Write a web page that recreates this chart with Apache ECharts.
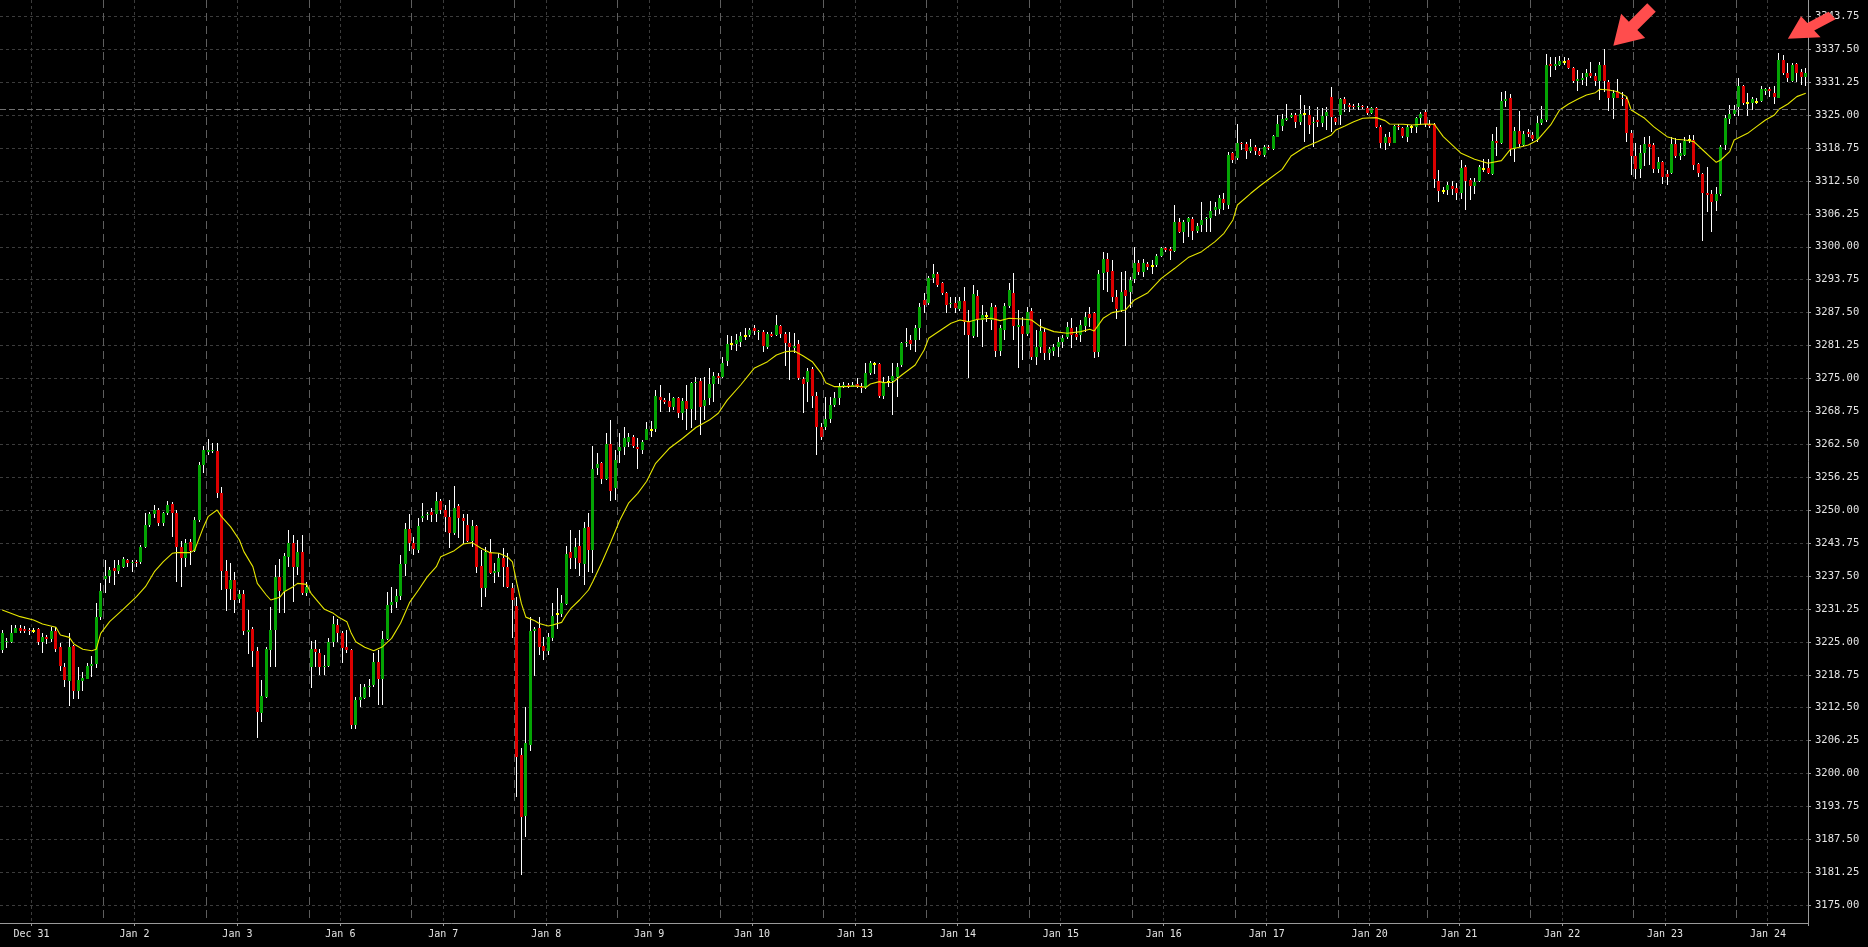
<!DOCTYPE html>
<html><head><meta charset="utf-8">
<script src="https://cdn.jsdelivr.net/npm/echarts@6/dist/echarts.min.js"></script>
<style>html,body{margin:0;padding:0;background:#000;}#chart{width:1868px;height:947px;}</style>
</head><body><div id="chart"></div>
<script>
// ---- data: hourly bars, each [open, close, low, high] ----
const dayLabels = ['Dec 31','Jan 2','Jan 3','Jan 6','Jan 7','Jan 8','Jan 9','Jan 10','Jan 13','Jan 14','Jan 15','Jan 16','Jan 17','Jan 20','Jan 21','Jan 22','Jan 23','Jan 24'];

const dec31 = [[3223.46,3226.62,3222.9,3227.2],[3224.9,3225.2,3223.9,3225.7],[3224.9,3226.75,3224.7,3228.2],[3226.75,3227.6,3226.6,3228.2],[3227.6,3227.1,3226.6,3228.2],[3227.4,3227.0,3226.6,3228.0],[3227.3,3227.0,3226.3,3227.7],[3227.1,3227.1,3226.6,3227.6],[3227.4,3224.9,3224.4,3227.6],[3224.9,3226.0,3222.9,3226.6],[3226.0,3225.6,3224.6,3226.3],[3225.6,3227.1,3225.0,3227.9],[3227.1,3223.7,3223.1,3227.9],[3224.0,3220.4,3219.5,3224.7],[3220.3,3217.8,3216.5,3220.9],[3217.5,3224.0,3212.9,3226.6],[3224.2,3215.75,3214.1,3224.4],[3215.75,3217.8,3214.1,3220.3],[3217.5,3218.1,3215.75,3219.3],[3218.0,3220.4,3217.9,3220.9],[3220.4,3220.8,3218.4,3222.4],[3220.8,3229.8,3220.0,3232.4],[3229.8,3234.6,3229.2,3236.1]];
const jan2 = [[3236.9,3237.6,3234.2,3240.5],[3237.6,3238.65,3236.1,3239.3],[3239.0,3238.5,3235.8,3240.5],[3238.5,3239.5,3237.9,3240.5],[3239.3,3240.7,3239.0,3241.2],[3240.5,3240.0,3239.3,3240.8],[3240.0,3240.2,3238.3,3240.5],[3240.2,3239.9,3239.3,3240.5],[3240.1,3243.1,3239.8,3243.4],[3243.1,3247.2,3242.8,3249.4],[3247.2,3249.3,3246.9,3249.7],[3249.3,3250.0,3248.6,3251.0],[3250.0,3247.5,3247.0,3250.5],[3247.5,3249.4,3247.0,3249.7],[3249.4,3251.0,3249.1,3251.8],[3251.2,3249.5,3244.9,3251.6],[3249.5,3243.1,3236.4,3250.0],[3243.0,3240.9,3235.5,3244.1],[3240.9,3243.8,3239.3,3244.6],[3243.9,3242.3,3239.6,3244.5],[3242.3,3248.1,3242.1,3248.8],[3248.1,3258.6,3247.8,3259.2],[3258.6,3261.4,3257.0,3262.1]];
const jan3 = [[3261.0,3261.4,3260.5,3263.5],[3261.2,3261.4,3260.9,3262.7],[3261.2,3253.3,3252.25,3262.7],[3253.3,3238.5,3234.85,3254.4],[3238.5,3235.0,3230.9,3240.5],[3235.0,3236.7,3232.9,3239.9],[3236.8,3233.0,3230.4,3238.3],[3233.2,3234.0,3232.3,3234.85],[3234.0,3227.1,3226.3,3234.85],[3226.9,3227.3,3222.7,3231.0],[3227.4,3223.3,3220.3,3227.9],[3223.3,3211.6,3206.7,3224.1],[3211.5,3214.7,3209.7,3217.8],[3214.6,3223.6,3214.3,3224.1],[3223.5,3227.25,3220.2,3231.7],[3227.25,3237.4,3220.2,3239.6],[3237.4,3234.6,3230.5,3240.7],[3234.6,3241.3,3230.5,3241.8],[3241.2,3243.7,3239.3,3246.2],[3243.7,3239.3,3232.6,3245.3],[3239.3,3242.1,3237.7,3244.4],[3242.1,3234.3,3233.9,3245.3],[3234.3,3235.4,3233.7,3236.4]];
const jan6 = [[3220.3,3223.6,3216.2,3225.1],[3223.6,3223.0,3220.3,3225.3],[3222.9,3220.3,3218.7,3223.6],[3220.2,3220.5,3218.7,3222.5],[3220.4,3225.0,3220.3,3225.7],[3225.0,3228.4,3224.1,3229.9],[3228.3,3226.7,3225.0,3229.3],[3226.7,3223.8,3221.0,3227.0],[3224.0,3223.4,3222.9,3227.3],[3223.4,3209.2,3208.5,3223.6],[3209.2,3213.9,3208.5,3214.6],[3213.9,3214.5,3212.7,3217.1],[3214.3,3216.4,3214.2,3217.1],[3216.4,3216.7,3214.5,3218.0],[3216.9,3221.1,3216.4,3222.8],[3221.1,3217.9,3213.0,3223.5],[3217.9,3225.6,3213.0,3227.1],[3225.6,3232.0,3225.4,3234.5],[3232.0,3232.5,3230.5,3235.5],[3232.5,3233.7,3231.4,3235.1],[3233.7,3239.8,3233.0,3241.4],[3239.8,3246.4,3237.5,3247.6],[3246.4,3243.8,3242.3,3249.3]];
const jan7 = [[3243.8,3242.6,3241.5,3245.0],[3242.4,3247.0,3241.8,3248.6],[3248.5,3248.9,3247.8,3251.4],[3249.0,3249.3,3248.1,3249.7],[3249.6,3249.1,3247.8,3250.4],[3249.3,3251.7,3247.8,3253.5],[3251.7,3250.1,3249.2,3252.2],[3250.1,3248.7,3245.9,3251.0],[3248.7,3245.6,3242.8,3252.0],[3245.6,3250.4,3245.3,3254.5],[3250.7,3248.5,3244.7,3251.1],[3248.5,3247.9,3243.6,3249.2],[3247.1,3244.2,3243.9,3249.2],[3244.2,3247.0,3243.0,3248.2],[3247.0,3239.3,3238.0,3247.2],[3239.4,3235.2,3231.7,3242.4],[3235.3,3242.1,3233.6,3243.1],[3242.1,3238.0,3237.9,3244.6],[3238.0,3238.5,3236.1,3239.9],[3238.3,3240.9,3237.4,3241.8],[3240.9,3239.3,3235.5,3242.8],[3239.3,3235.5,3235.3,3241.8],[3235.2,3232.95,3225.7,3236.2]];
const jan8 = [[3231.8,3203.2,3195.6,3233.6],[3203.5,3191.8,3180.7,3204.8],[3191.9,3205.9,3188.0,3212.7],[3205.4,3227.1,3204.2,3229.8],[3227.1,3227.4,3218.5,3227.9],[3227.6,3224.1,3222.5,3229.8],[3224.2,3223.3,3221.6,3225.9],[3223.3,3225.9,3222.5,3226.6],[3225.7,3229.9,3225.1,3232.4],[3230.2,3230.2,3227.4,3235.2],[3230.3,3232.3,3229.8,3233.9],[3232.2,3241.7,3232.0,3243.2],[3242.1,3241.0,3238.9,3246.2],[3241.0,3243.1,3238.9,3244.7],[3243.2,3239.9,3237.5,3246.2],[3239.8,3246.6,3235.8,3247.8],[3246.9,3242.4,3238.3,3249.4],[3242.4,3257.9,3238.0,3262.1],[3258.1,3258.8,3256.7,3260.8],[3258.9,3255.9,3254.9,3259.2],[3255.9,3262.6,3255.7,3264.6],[3262.6,3253.7,3251.8,3267.1],[3254.15,3259.5,3251.9,3261.4]];
const jan9 = [[3261.24,3261.93,3258.9,3264.7],[3262.06,3263.64,3260.48,3265.86],[3263.0,3263.83,3262.06,3264.59],[3263.83,3262.25,3261.74,3264.27],[3261.93,3261.61,3257.75,3263.64],[3261.42,3262.88,3260.67,3263.32],[3263.32,3265.35,3263.32,3266.8],[3265.22,3265.22,3263.96,3266.99],[3265.41,3271.74,3264.9,3272.81],[3271.55,3270.92,3268.7,3273.76],[3270.92,3270.6,3270.16,3271.2],[3270.73,3269.53,3268.7,3272.18],[3269.65,3271.23,3269.02,3271.55],[3271.23,3268.51,3267.44,3271.55],[3268.51,3270.73,3267.12,3271.23],[3270.73,3269.14,3265.22,3273.76],[3269.14,3274.08,3265.54,3274.4],[3274.08,3274.33,3267.12,3275.34],[3274.52,3269.53,3264.27,3275.03],[3269.78,3270.92,3267.12,3275.34],[3271.23,3273.95,3269.97,3276.93],[3273.95,3275.54,3270.6,3276.17],[3275.54,3275.03,3273.95,3275.98]];
const jan10 = [[3275.34,3277.88,3275.03,3279.14],[3278.38,3281.55,3277.37,3283.25],[3281.55,3281.55,3280.41,3283.06],[3281.55,3282.31,3280.28,3283.44],[3282.0,3283.06,3280.91,3283.89],[3283.06,3283.06,3282.31,3284.52],[3283.25,3284.2,3282.81,3284.52],[3284.65,3284.01,3283.25,3285.15],[3283.76,3284.01,3282.31,3284.2],[3283.89,3281.17,3280.09,3284.2],[3281.04,3283.44,3280.53,3283.89],[3283.44,3283.06,3282.81,3283.89],[3283.25,3285.15,3283.06,3287.05],[3284.96,3283.44,3282.62,3285.15],[3283.44,3281.8,3277.37,3283.89],[3281.67,3280.91,3274.71,3283.89],[3280.85,3281.17,3279.77,3283.7],[3281.48,3275.03,3274.71,3282.31],[3274.9,3273.95,3268.39,3275.34],[3274.4,3276.48,3270.6,3276.93],[3276.8,3271.74,3269.33,3277.24],[3271.74,3265.86,3260.48,3272.5],[3265.86,3263.96,3263.32,3266.49]];
const jan13 = [[3265.86,3267.25,3265.22,3271.55],[3267.25,3269.9,3266.62,3271.55],[3269.9,3271.29,3269.65,3272.5],[3271.23,3273.57,3269.97,3274.08],[3273.45,3273.76,3273.13,3274.4],[3273.83,3273.45,3273.13,3274.08],[3273.45,3273.7,3273.32,3274.4],[3273.95,3273.45,3273.13,3275.03],[3273.57,3273.13,3272.31,3274.08],[3273.13,3275.98,3272.94,3277.88],[3275.98,3278.0,3275.66,3278.32],[3277.75,3277.75,3275.85,3278.19],[3277.75,3271.67,3271.23,3277.88],[3271.67,3274.27,3271.04,3275.34],[3274.27,3274.27,3273.45,3275.47],[3274.58,3275.47,3268.07,3277.88],[3275.34,3277.24,3271.55,3278.0],[3277.56,3281.67,3277.24,3281.99],[3281.67,3281.99,3281.04,3284.52],[3282.31,3281.55,3280.41,3283.25],[3282.31,3284.65,3280.09,3285.15],[3284.65,3288.63,3282.31,3289.27],[3289.9,3288.95,3287.37,3291.16]];
const jan14 = [[3289.39,3294.01,3288.95,3294.46],[3294.01,3294.83,3293.06,3296.73],[3294.83,3292.75,3292.43,3295.28],[3293.06,3291.29,3290.85,3293.38],[3291.29,3288.95,3287.37,3291.48],[3289.08,3289.39,3288.32,3290.53],[3289.39,3288.32,3287.37,3290.53],[3288.13,3289.77,3287.87,3290.53],[3289.77,3285.78,3283.25,3292.43],[3285.78,3283.25,3275.15,3288.0],[3283.06,3291.04,3282.62,3292.75],[3290.66,3286.1,3282.94,3291.8],[3286.1,3287.05,3281.04,3288.95],[3286.92,3286.92,3285.78,3287.68],[3286.1,3288.51,3284.2,3289.39],[3288.51,3280.28,3279.14,3288.95],[3280.28,3284.52,3279.27,3285.15],[3284.2,3288.76,3282.31,3289.27],[3288.76,3291.8,3288.32,3293.06],[3291.29,3284.96,3282.31,3294.96],[3284.84,3285.09,3276.93,3288.0],[3284.96,3283.44,3278.51,3286.73],[3283.44,3287.68,3283.06,3288.63]];
const jan15 = [[3287.88,3279.14,3278.51,3288.32],[3279.14,3280.91,3277.56,3284.21],[3280.91,3284.02,3279.78,3286.23],[3283.89,3279.78,3278.51,3284.52],[3279.78,3280.54,3278.51,3281.04],[3280.28,3280.91,3279.27,3281.55],[3280.91,3281.99,3279.02,3282.94],[3281.99,3282.75,3280.72,3283.25],[3282.94,3284.71,3282.44,3285.78],[3284.65,3283.25,3280.72,3286.42],[3283.38,3282.94,3282.31,3284.84],[3283.25,3285.15,3282.0,3286.1],[3284.96,3286.61,3283.89,3287.68],[3287.24,3286.42,3284.84,3288.51],[3287.37,3280.09,3278.82,3287.68],[3280.09,3294.84,3279.02,3295.6],[3295.09,3297.62,3291.8,3299.07],[3297.62,3295.28,3291.48,3298.89],[3295.41,3290.53,3289.59,3297.49],[3290.53,3288.13,3286.23,3291.8],[3288.01,3291.48,3287.68,3295.28],[3291.8,3290.66,3281.17,3295.41],[3291.48,3293.7,3288.32,3294.33]];
const jan16 = [[3293.82,3296.86,3293.06,3299.9],[3296.86,3295.28,3294.65,3297.49],[3295.28,3296.86,3294.33,3297.62],[3296.67,3296.23,3295.6,3297.17],[3296.35,3296.35,3294.84,3297.49],[3296.54,3298.25,3296.23,3298.57],[3298.25,3299.71,3298.13,3300.02],[3299.71,3299.39,3299.07,3300.02],[3299.52,3299.27,3297.49,3300.02],[3299.27,3304.64,3299.07,3307.93],[3304.64,3302.87,3302.56,3305.4],[3302.87,3304.64,3300.78,3305.09],[3304.77,3305.4,3301.92,3305.72],[3305.27,3303.0,3301.29,3305.72],[3303.0,3303.95,3302.56,3304.45],[3304.14,3305.09,3302.87,3308.57],[3305.21,3305.4,3302.87,3305.72],[3305.4,3306.79,3302.87,3308.69],[3306.98,3307.62,3305.85,3308.57],[3307.11,3309.2,3306.22,3309.83],[3309.01,3308.37,3306.98,3310.15],[3307.93,3317.42,3307.11,3318.06],[3317.74,3316.48,3315.97,3318.06]];
const jan17 = [[3316.79,3319.77,3316.48,3323.31],[3319.77,3319.51,3318.37,3319.96],[3319.51,3318.25,3316.6,3319.96],[3318.25,3318.88,3317.74,3320.4],[3318.88,3318.18,3317.42,3319.32],[3318.18,3317.42,3317.23,3318.69],[3317.42,3318.88,3317.11,3319.32],[3319.01,3318.69,3318.37,3319.32],[3318.56,3321.09,3318.37,3321.22],[3320.91,3323.31,3320.78,3325.02],[3322.99,3324.26,3322.04,3325.14],[3324.07,3324.45,3323.94,3327.04],[3324.58,3325.02,3324.39,3325.33],[3325.02,3323.75,3322.49,3325.33],[3323.75,3325.21,3323.12,3328.81],[3325.14,3325.14,3319.96,3326.92],[3325.02,3323.12,3321.41,3326.73],[3323.44,3323.75,3318.88,3324.7],[3324.07,3323.63,3322.8,3326.6],[3323.44,3324.89,3322.8,3326.28],[3324.89,3325.52,3322.17,3326.6],[3328.37,3324.58,3321.85,3330.4],[3324.39,3323.75,3323.12,3324.7]];
const jan20 = [[3325.02,3327.99,3323.12,3328.18],[3327.99,3327.11,3325.65,3328.5],[3326.92,3326.47,3325.65,3327.23],[3326.79,3326.47,3326.1,3327.04],[3326.47,3326.73,3325.97,3327.23],[3326.73,3326.47,3326.1,3326.92],[3326.41,3325.33,3325.02,3326.73],[3325.46,3326.28,3325.21,3326.47],[3326.41,3322.8,3322.49,3326.6],[3322.8,3319.64,3318.69,3323.12],[3319.64,3320.91,3318.37,3321.41],[3320.91,3319.77,3319.13,3321.85],[3319.77,3322.93,3319.64,3323.12],[3322.93,3322.68,3322.17,3323.25],[3322.49,3321.03,3320.72,3322.8],[3320.91,3322.68,3319.96,3323.12],[3322.8,3322.8,3321.54,3323.12],[3322.8,3324.39,3321.66,3324.7],[3324.39,3325.21,3323.12,3325.65],[3325.65,3323.31,3322.68,3325.97]];
const jan21 = [[3323.31,3322.9,3322.5,3324.0],[3323.31,3312.81,3311.1,3323.44],[3312.49,3310.65,3308.57,3314.58],[3310.65,3310.65,3310.02,3311.41],[3310.78,3311.73,3309.83,3312.36],[3311.6,3310.97,3309.83,3312.49],[3311.1,3310.27,3308.88,3312.05],[3310.15,3314.9,3309.01,3316.48],[3315.08,3312.55,3306.98,3315.53],[3312.68,3311.54,3308.88,3312.99],[3311.6,3312.36,3310.02,3312.99],[3312.55,3315.08,3312.36,3315.53],[3314.83,3314.83,3314.26,3316.6],[3315.02,3313.94,3313.82,3316.6],[3313.82,3320.15,3313.63,3321.41],[3320.08,3319.64,3317.23,3322.8],[3319.64,3327.68,3319.51,3329.45],[3327.74,3328.06,3326.6,3329.64],[3328.31,3318.56,3317.23,3329.0],[3318.56,3322.04,3316.16,3322.68],[3321.98,3319.51,3319.01,3325.84],[3319.32,3321.41,3319.13,3321.98],[3321.85,3321.41,3320.91,3322.3]];
const jan22 = [[3321.22,3320.4,3320.14,3321.85],[3320.4,3323.43,3319.95,3324.83],[3323.43,3324.19,3323.12,3326.72],[3324.07,3334.51,3323.75,3336.59],[3334.7,3334.32,3332.29,3335.96],[3334.32,3334.7,3333.56,3336.09],[3334.51,3335.27,3334.32,3336.21],[3335.14,3335.14,3334.51,3336.09],[3335.46,3334.0,3333.68,3335.77],[3333.87,3331.53,3331.15,3334.19],[3331.53,3331.85,3329.63,3333.56],[3331.66,3331.97,3330.71,3333.05],[3332.17,3332.92,3330.52,3333.68],[3332.92,3332.42,3331.97,3335.08],[3332.42,3331.53,3330.52,3333.05],[3331.53,3334.51,3327.86,3335.14],[3334.51,3331.47,3329.44,3337.54],[3331.34,3328.31,3325.77,3331.66],[3328.31,3329.13,3324.19,3329.76],[3329.44,3328.31,3328.18,3331.78],[3328.31,3327.99,3326.72,3329.44],[3327.99,3321.66,3319.95,3328.37],[3321.66,3317.3,3313.63,3322.17]];
const jan23 = [[3317.3,3314.7,3312.8,3319.64],[3314.7,3317.74,3313.0,3319.32],[3317.86,3319.51,3315.33,3320.9],[3319.51,3319.0,3315.52,3321.03],[3319.26,3314.76,3314.07,3319.64],[3314.76,3316.09,3313.94,3317.11],[3316.09,3313.31,3311.92,3316.35],[3313.82,3313.31,3311.73,3314.57],[3313.94,3319.51,3313.82,3320.9],[3319.51,3317.23,3316.92,3320.59],[3317.23,3317.86,3316.47,3319.64],[3317.42,3320.14,3317.23,3320.78],[3320.27,3320.27,3319.64,3321.22],[3320.27,3315.59,3314.57,3321.22],[3315.65,3313.94,3313.31,3315.97],[3313.82,3310.27,3301.16,3314.07],[3310.15,3309.83,3306.67,3315.21],[3310.02,3308.56,3302.87,3310.78],[3308.75,3310.02,3306.79,3311.41],[3310.02,3318.88,3309.64,3319.32],[3319.32,3324.38,3318.37,3325.01],[3324.19,3325.2,3323.24,3326.85],[3325.2,3325.96,3324.83,3326.91]];
const jan24 = [[3326.6,3330.52,3324.83,3331.97],[3330.52,3327.23,3326.91,3330.71],[3327.23,3327.23,3324.83,3329.13],[3327.36,3328.05,3325.96,3328.5],[3327.55,3327.55,3327.1,3328.18],[3327.74,3329.89,3327.55,3330.52],[3329.63,3329.89,3328.81,3330.08],[3329.89,3329.63,3328.5,3330.27],[3329.13,3328.5,3327.1,3330.52],[3328.3,3335.46,3328.18,3336.85],[3335.46,3332.92,3332.61,3336.4],[3333.05,3331.97,3331.34,3334.82],[3331.53,3334.57,3331.34,3334.95],[3334.7,3333.05,3331.34,3334.95],[3333.18,3332.17,3330.71,3333.68],[3332.17,3333.05,3330.52,3333.87]];

const days = [dec31, jan2, jan3, jan6, jan7, jan8, jan9, jan10, jan13, jan14, jan15, jan16, jan17, jan20, jan21, jan22, jan23, jan24];

// moving average: [bar index, value]
const maPoints = [[0,3231.05],[4,3229.79],[7,3229.15],[9,3228.39],[12,3227.77],[13,3226.31],[15,3225.86],[16,3224.6],[18,3223.59],[20,3223.33],[21,3223.59],[22,3226.62],[24,3228.84],[27,3231.18],[30,3233.58],[32,3235.48],[34,3238.33],[36,3240.23],[38,3241.81],[39,3241.94],[42,3241.94],[43,3242.44],[45,3246.87],[46,3248.77],[48,3250.03],[49,3248.77],[51,3246.87],[53,3244.34],[54,3242.13],[56,3239.28],[57,3236.11],[59,3233.9],[60,3232.95],[62,3233.46],[63,3234.53],[65,3235.48],[66,3236.11],[68,3235.92],[69,3234.22],[72,3231.18],[74,3230.42],[75,3229.79],[77,3228.84],[78,3226.62],[79,3225.04],[81,3223.97],[83,3223.33],[85,3224.09],[87,3225.67],[89,3228.52],[91,3232.44],[93,3234.85],[95,3237.38],[97,3239.28],[98,3241.18],[101,3242.32],[103,3243.58],[105,3243.84],[107,3242.76],[109,3241.94],[111,3241.81],[113,3241.05],[114,3240.2],[115,3236.1],[116,3232.3],[117,3229.7],[119,3229.0],[120,3228.5],[122,3228.0],[123,3228.2],[125,3228.7],[126,3230.1],[127,3231.3],[129,3232.95],[131,3234.85],[132,3236.5],[134,3240.1],[136,3244.0],[138,3248.1],[140,3251.4],[142,3253.2],[144,3255.5],[146,3258.9],[149,3261.7],[152,3263.6],[155,3265.7],[158,3267.1],[160,3268.4],[162,3270.9],[165,3273.76],[168,3276.93],[171,3278.19],[173,3279.46],[175,3280.09],[177,3280.22],[179,3279.27],[181,3278.19],[183,3275.98],[184,3274.21],[186,3273.45],[188,3273.45],[191,3273.57],[193,3273.32],[194,3273.95],[196,3274.4],[197,3274.21],[199,3274.27],[201,3275.66],[204,3277.56],[206,3280.41],[207,3282.62],[210,3284.33],[212,3285.47],[214,3286.1],[216,3285.78],[218,3286.23],[221,3286.42],[223,3285.98],[225,3286.42],[228,3286.3],[230,3286.1],[232,3284.84],[235,3283.89],[238,3283.57],[241,3283.89],[243,3284.33],[244,3284.02],[246,3286.42],[248,3287.5],[251,3288.0],[253,3289.9],[256,3291.29],[259,3294.01],[262,3295.91],[265,3297.94],[268,3299.07],[271,3300.97],[273,3302.56],[275,3305.09],[276,3307.93],[279,3310.15],[281,3311.54],[283,3312.81],[286,3314.7],[288,3317.23],[291,3318.88],[294,3319.96],[297,3321.22],[298,3322.17],[300,3322.93],[302,3323.75],[304,3324.39],[307,3324.51],[309,3323.94],[310,3323.31],[313,3323.25],[315,3323.12],[318,3323.31],[320,3323.25],[322,3320.91],[326,3317.74],[329,3316.6],[332,3315.84],[335,3316.35],[337,3318.5],[339,3318.9],[341,3319.32],[343,3320.2],[346,3323.12],[348,3325.96],[350,3327.1],[352,3327.99],[354,3328.81],[356,3329.25],[357,3329.89],[359,3329.76],[361,3329.44],[363,3328.5],[364,3325.96],[367,3324.38],[369,3322.8],[372,3320.9],[374,3320.4],[376,3320.27],[378,3319.95],[380,3318.37],[382,3316.79],[383,3316.03],[384,3316.47],[386,3318.05],[387,3320.27],[390,3321.53],[392,3322.8],[394,3324.07],[396,3325.01],[397,3326.09],[399,3327.1],[401,3328.5],[403,3329.13]];

const yTicks = [3175.00,3181.25,3187.50,3193.75,3200.00,3206.25,3212.50,3218.75,3225.00,3231.25,3237.50,3243.75,3250.00,3256.25,3262.50,3268.75,3275.00,3281.25,3287.50,3293.75,3300.00,3306.25,3312.50,3318.75,3325.00,3331.25,3337.50,3343.75];
const priceLine = 3326.1;
const arrowTips = [[360, 3338.17], [399, 3338.62]];

// ---- build ----
const categories = [], candles = [], dayStart = new Set(), labelAt = {};
let n = 0;
days.forEach((bars, d) => {
  dayStart.add(n);
  labelAt[n + 7] = dayLabels[d];
  bars.forEach((b, k) => {
    categories.push(dayLabels[d] + ' #' + k);
    candles.push([n, b[0], b[1], b[2], b[3]]);
    n++;
  });
});

const GREEN = '#04a404', RED = '#dc0000', DOJI = '#ffff00', WICK = '#ffffff';
const FONT = "'DejaVu Sans Mono', monospace";
const TXT = '#e4e4e4', AXIS = '#9a9a9a';

function renderCandle(params, api) {
  const i = api.value(0), o = api.value(1), c = api.value(2), l = api.value(3), h = api.value(4);
  const pO = api.coord([i, o]), pC = api.coord([i, c]), pL = api.coord([i, l]), pH = api.coord([i, h]);
  const x = Math.round(pO[0] - 0.5);
  const yH = Math.round(pH[1]), yL = Math.round(pL[1]);
  let top = Math.round(Math.min(pO[1], pC[1])), bot = Math.round(Math.max(pO[1], pC[1]));
  let color = c > o ? GREEN : (c < o ? RED : DOJI);
  let hgt = Math.max(1, bot - top);
  if (o === c) { top = top - 1; hgt = 2; }
  return {
    type: 'group',
    children: [
      { type: 'rect', shape: { x: x, y: yH, width: 1, height: Math.max(1, yL - yH) }, style: { fill: WICK } },
      { type: 'rect', shape: { x: x - 1, y: top, width: 3, height: hgt }, style: { fill: color } }
    ]
  };
}

const arrow1 = 'path://M42.43,8.49 L24.04,26.87 L31.82,34.65 L0,42.43 L7.78,10.61 L15.56,18.38 L33.94,0 Z';
const arrow2 = 'path://M47.68,9.83 L26.38,24.74 L32.69,33.76 L0,35.89 L13.19,5.9 L19.5,14.91 L40.8,0 Z';

const chart = echarts.init(document.getElementById('chart'), null, { renderer: 'canvas' });
chart.setOption({
  backgroundColor: '#000000',
  animation: false,
  grid: { left: -3, right: 60, top: 0, bottom: 24, containLabel: false },
  xAxis: [
    {
      type: 'category', data: categories, boundaryGap: true, position: 'bottom',
      axisLine: { show: true, lineStyle: { color: AXIS, width: 1 } },
      axisTick: { show: true, interval: (i) => labelAt[i] !== undefined, length: 3, lineStyle: { color: AXIS } },
      axisLabel: { show: true, interval: (i) => labelAt[i] !== undefined, formatter: (v, i) => labelAt[i] || '',
        color: TXT, fontSize: 10, fontFamily: FONT, margin: 6, padding: [0, 4, 0, 0], hideOverlap: false },
      splitLine: { show: true, interval: (i) => labelAt[i] !== undefined, lineStyle: { color: '#3c3c3c', type: [3, 3], width: 1 } }
    },
    {
      type: 'category', data: categories, boundaryGap: true, position: 'top',
      axisLine: { show: false }, axisTick: { show: false }, axisLabel: { show: false },
      splitLine: { show: true, interval: (i) => i > 0 && dayStart.has(i), lineStyle: { color: '#5e5e5e', type: [8, 5], width: 1 } }
    }
  ],
  yAxis: {
    type: 'value', position: 'right', min: 3171.64, max: 3346.84, scale: true,
    axisLine: { show: true, lineStyle: { color: AXIS, width: 1 } },
    axisTick: { show: true, customValues: yTicks, length: 3, lineStyle: { color: AXIS } },
    axisLabel: { show: true, customValues: yTicks, formatter: (v) => Number(v).toFixed(2), color: TXT, fontSize: 10.5, fontFamily: FONT, margin: 7 },
    splitLine: { show: true, lineStyle: { color: '#3c3c3c', type: [3, 3], width: 1 } }
  },
  series: [
    {
      type: 'custom', name: 'candles', xAxisIndex: 0, yAxisIndex: 0,
      data: candles, encode: { x: 0, y: [1, 2, 3, 4] },
      renderItem: renderCandle, silent: true, z: 2
    },
    {
      type: 'line', name: 'MA', xAxisIndex: 0, yAxisIndex: 0,
      data: maPoints, showSymbol: false, symbol: 'none', smooth: false, silent: true, z: 3,
      lineStyle: { color: '#e6e600', width: 1.1 },
      markLine: {
        silent: true, symbol: ['none', 'none'], label: { show: false },
        lineStyle: { color: '#707070', type: [6, 3], width: 1 },
        data: [{ yAxis: priceLine }]
      },
      markPoint: {
        silent: true, z: 10,
        label: { show: false },
        data: [
          { coord: [categories[arrowTips[0][0]], arrowTips[0][1]], symbol: arrow1, symbolSize: [42.43, 42.43], symbolOffset: [21.21, -21.21], symbolKeepAspect: true, itemStyle: { color: '#ff4d4d' } },
          { coord: [categories[arrowTips[1][0]], arrowTips[1][1]], symbol: arrow2, symbolSize: [47.68, 35.89], symbolOffset: [23.84, -17.94], symbolKeepAspect: true, itemStyle: { color: '#ff4d4d' } }
        ]
      }
    }
  ]
});
</script>
</body></html>
